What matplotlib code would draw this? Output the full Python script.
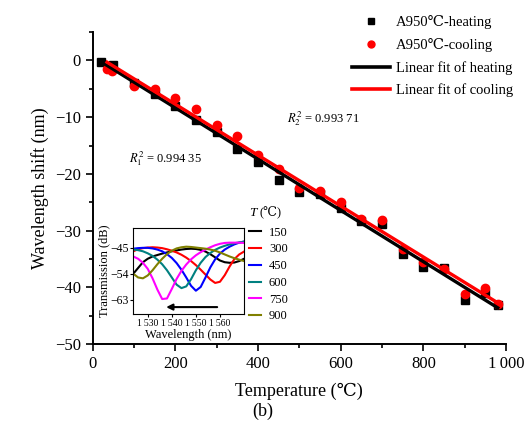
import numpy as np
import matplotlib
matplotlib.use("Agg")
import matplotlib.pyplot as plt
from matplotlib.lines import Line2D

plt.rcParams["font.family"] = ["Liberation Serif", "DejaVu Serif"]
plt.rcParams["mathtext.fontset"] = "stix"

# main data
temp_heat = [20, 50, 100, 150, 200, 250, 300, 350, 400, 450, 500,
             550, 600, 650, 700, 750, 800, 850, 900, 950, 980]
shift_heat = [-0.2, -0.8, -3.9, -6.0, -8.0, -10.5, -12.6, -15.7, -17.9, -21.0, -23.2,
              -23.5, -26.0, -28.3, -28.9, -34.1, -36.4, -36.6, -42.3, -41.0, -43.2]
temp_cool = [35, 48, 100, 150, 200, 250, 300, 350, 400, 450, 500,
             550, 600, 650, 700, 750, 800, 850, 900, 950, 980]
shift_cool = [-1.5, -1.9, -4.5, -5.1, -6.6, -8.6, -11.3, -13.3, -16.6, -19.2, -22.5,
              -23.1, -25.0, -28.0, -28.2, -33.3, -35.6, -36.8, -41.2, -40.1, -43.0]

# inset spectra
wavelength = [1524, 1526, 1528, 1530, 1532, 1534, 1536, 1538, 1540, 1542, 1544, 1546,
              1548, 1550, 1552, 1554, 1556, 1558, 1560, 1562, 1564, 1566, 1568, 1570]
t_labels = ["150", "300", "450", "600", "750", "900"]
spec_150 = [-54, -52, -50, -48.8, -48, -47.5, -47, -46.6, -46.2, -45.9, -45.6, -45.4,
            -45.3, -45.4, -45.7, -46.3, -47.2, -48.3, -49.4, -50, -50.2, -50.1, -49.6, -48.8]
spec_300 = [-46.2, -45.5, -45.1, -44.9, -44.8, -44.9, -45.1, -45.5, -46, -46.6, -47.4, -48.4,
            -49.6, -51, -52.6, -54.3, -56, -57.2, -56.8, -54.5, -51.5, -48.9, -47.3, -46.3]
spec_450 = [-45.3, -45.1, -45, -45, -45.2, -45.6, -46.2, -47.2, -48.5, -50.3, -52.6, -55.3,
            -58.2, -59.9, -58.6, -55.3, -51.8, -49, -47, -45.6, -44.6, -43.8, -43.2, -42.8]
spec_600 = [-45.6, -45.8, -46.2, -46.9, -47.8, -49.1, -50.7, -52.8, -55.3, -57.8, -59, -58.4,
            -55.9, -52.8, -50.2, -48.2, -46.8, -45.7, -44.9, -44.3, -43.8, -43.4, -43.1, -42.9]
spec_750 = [-48, -48.8, -50.2, -52.3, -55.6, -59.5, -62.8, -62.6, -59.3, -55.8, -53, -50.8,
            -49, -47.6, -46.5, -45.6, -44.8, -44.1, -43.6, -43.3, -43.2, -43.2, -43.2, -43.3]
spec_900 = [-54, -55.3, -55.6, -54.6, -52.8, -50.7, -48.8, -47.2, -46, -45.2, -44.8, -44.6,
            -44.7, -44.9, -45.1, -45.3, -45.6, -46, -46.6, -47.3, -48, -48.6, -49.1, -49.6]
spectra = [spec_150, spec_300, spec_450, spec_600, spec_750, spec_900]
spec_colors = ["black", "red", "blue", "#008080", "magenta", "#808000"]


def main():
    fig = plt.figure(figsize=(5.26, 4.43), dpi=100)
    ax = fig.add_axes([0.176, 0.2235, 0.786, 0.704])

    fit_h = np.polyfit(temp_heat, shift_heat, 1)
    fit_c = np.polyfit(temp_cool, shift_cool, 1)
    xh = np.array([temp_heat[0], temp_heat[-1]])
    xc = np.array([temp_cool[0], temp_cool[-1]])

    ax.plot(temp_heat, shift_heat, "s", color="black", ms=6, zorder=3)
    ax.plot(temp_cool, shift_cool, "o", color="red", ms=6, zorder=3)
    ax.plot(xh, np.polyval(fit_h, xh), color="black", lw=2.4, zorder=4)
    ax.plot(xc, np.polyval(fit_c, xc), color="red", lw=2.4, zorder=5)

    ax.set_xlim(0, 1000)
    ax.set_ylim(-50, 5)
    ax.set_xticks([0, 200, 400, 600, 800, 1000])
    ax.set_xticklabels(["0", "200", "400", "600", "800", "1\u2009000"])
    ax.set_xticks(range(100, 1000, 200), minor=True)
    ax.set_yticks([0, -10, -20, -30, -40, -50])
    ax.set_yticks(range(-45, 6, 10), minor=True)
    ax.tick_params(labelsize=12, width=1.2, length=5, direction="out")
    ax.tick_params(which="minor", width=1.2, length=3)
    for s in ["top", "right"]:
        ax.spines[s].set_visible(False)
    for s in ["left", "bottom"]:
        ax.spines[s].set_linewidth(1.4)
    ax.set_xlabel("Temperature (\u2103)", fontsize=13, labelpad=8)
    ax.set_ylabel("Wavelength shift (nm)", fontsize=13, labelpad=4)

    ax.text(88, -18.0, "$R_1^2$ = 0.994 35", fontsize=9)
    ax.text(470, -11.0, "$R_2^2$ = 0.993 71", fontsize=9)

    handles = [
        Line2D([], [], marker="s", color="black", ls="none", ms=5),
        Line2D([], [], marker="o", color="red", ls="none", ms=5),
        Line2D([], [], color="black", lw=2.6),
        Line2D([], [], color="red", lw=2.6),
    ]
    labels = ["A950\u2103-heating", "A950\u2103-cooling",
              "Linear fit of heating", "Linear fit of cooling"]
    fig.legend(handles, labels, loc="upper right", bbox_to_anchor=(1.0, 0.995),
               frameon=False, fontsize=10.5, handlelength=2.6, handletextpad=0.4,
               labelspacing=0.6)

    # inset
    ins = fig.add_axes([0.2534, 0.2912, 0.2105, 0.1948])
    for spec, c, lab in zip(spectra, spec_colors, t_labels):
        ins.plot(wavelength, spec, color=c, lw=1.5, label=lab)
    ins.annotate("", xy=(1536.5, -65.6), xytext=(1560, -65.6),
                 arrowprops=dict(arrowstyle="-|>", color="black", lw=1.5,
                                 mutation_scale=9))
    ins.set_xlim(1524, 1570)
    ins.set_ylim(-68, -38)
    ins.set_xticks([1530, 1540, 1550, 1560])
    ins.set_xticklabels(["1\u2009530", "1\u2009540", "1\u2009550", "1\u2009560"])
    ins.set_yticks([-45, -54, -63])
    ins.tick_params(labelsize=7, length=2, width=0.8, pad=1.5)
    ins.tick_params(axis="y", labelsize=8.5)
    for s in ins.spines.values():
        s.set_linewidth(0.8)
    ins.set_xlabel("Wavelength (nm)", fontsize=9, labelpad=1)
    ins.set_ylabel("Transmission (dB)", fontsize=9, labelpad=0)
    ins.legend(loc="upper left", bbox_to_anchor=(1.045, 1.012), frameon=False,
               fontsize=9, handlelength=1.0, handletextpad=0.6, labelspacing=0.38,
               borderpad=0, borderaxespad=0)
    ins.text(1.05, 1.17, "T", style="italic", fontsize=9.5, transform=ins.transAxes,
             ha="left", va="center")
    ins.text(1.14, 1.17, "(\u2103)", fontsize=9, transform=ins.transAxes,
             ha="left", va="center")

    fig.text(0.5, 0.072, "(b)", fontsize=13, ha="center", va="center")
    fig.savefig("out.png", dpi=100)
    plt.close(fig)


if __name__ == "__main__":
    main()
